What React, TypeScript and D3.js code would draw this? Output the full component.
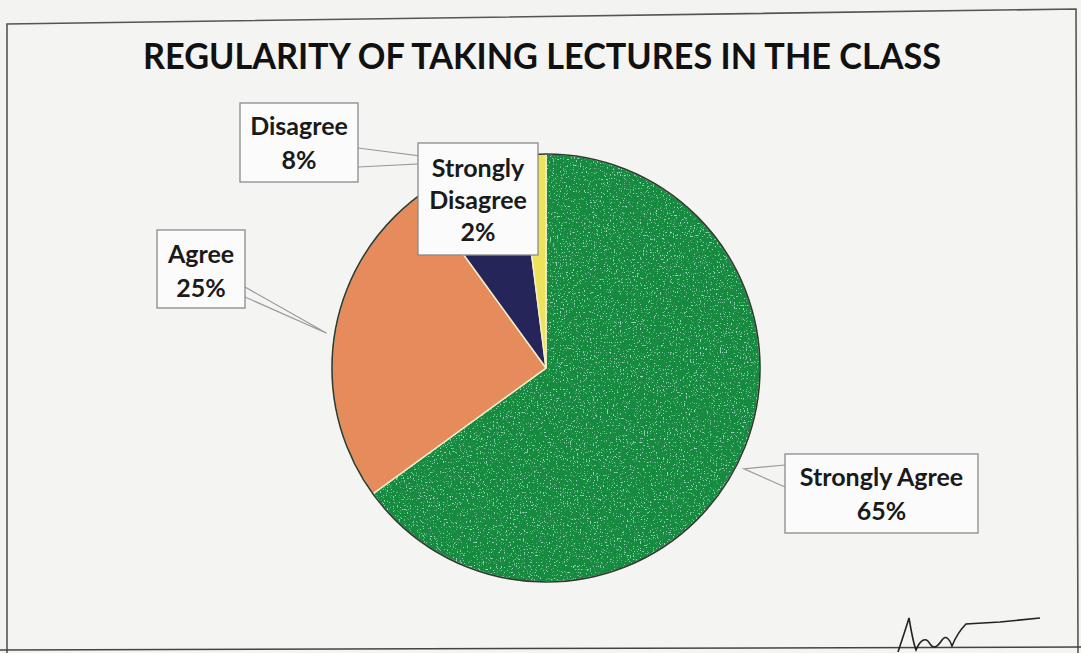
import React from "react";
import * as d3 from "d3";

const categories = ["Strongly Agree", "Agree", "Disagree", "Strongly Disagree"];
const percents = [65, 25, 8, 2];
const sliceColors = ["#138b41", "#e68b5c", "#25255a", "#ede25c"];
const chartTitle = "REGULARITY OF TAKING LECTURES IN THE CLASS";

// label layout (box rectangles and callout anchor points), separate from data
const labelBoxes = [
  { x: 785, y: 454, w: 193, h: 79, lines: ["Strongly Agree", "65%"], anchor: { x: 785, y1: 465, y2: 487 }, lineY: [486, 520] },
  { x: 157, y: 230, w: 88, h: 78, lines: ["Agree", "25%"], anchor: { x: 245, y1: 287, y2: 297 }, lineY: [263, 297] },
  { x: 240, y: 103, w: 118, h: 79, lines: ["Disagree", "8%"], anchor: { x: 358, y1: 148, y2: 167 }, lineY: [135, 169] },
  { x: 418, y: 143, w: 120, h: 112, lines: ["Strongly", "Disagree", "2%"], anchor: null, lineY: [177, 209, 241] },
];

const W = 1081;
const H = 653;
const cx = 546;
const cy = 368;
const R = 214;

export default function App() {
  const pie = d3.pie<number>().sort(null).value((d) => d)(percents);
  const arc = d3.arc<d3.PieArcDatum<number>>().innerRadius(0).outerRadius(R);
  const tipArc = d3.arc<d3.PieArcDatum<number>>().innerRadius(R + 8).outerRadius(R + 8);
  const font = "Lato, 'Open Sans', sans-serif";

  return (
    <svg width={W} height={H} style={{ position: "absolute", left: 0, top: 0, background: "#f3f3f1" }}>
      <defs>
        <filter id="speck" x="0" y="0" width="100%" height="100%">
          <feTurbulence type="fractalNoise" baseFrequency="0.7" numOctaves="2" seed="4" result="n" />
          <feColorMatrix in="n" type="matrix" values="0 0 0 0 0.3  0 0 0 0 0.68  0 0 0 0 0.5  0 0 0 9 -5.6" result="s" />
          <feComposite in="s" in2="SourceGraphic" operator="in" result="sc" />
          <feMerge>
            <feMergeNode in="SourceGraphic" />
            <feMergeNode in="sc" />
          </feMerge>
        </filter>
      </defs>
      <rect x={0} y={0} width={W} height={H} fill="#f3f3f1" />
      {/* chart frame (slightly skewed scan) */}
      <path d="M7,653 L7,24 L1076,9 L1078,653" fill="#f4f4f3" stroke="#555" strokeWidth={1.6} />
      <line x1={0} y1={650} x2={W} y2={647} stroke="#444" strokeWidth={1.5} />

      <text
        x={542}
        y={69}
        textAnchor="middle"
        fontFamily={font}
        fontWeight={700}
        fontSize={36}
        fill="#111"
        textLength={798}
        lengthAdjust="spacingAndGlyphs"
      >
        {chartTitle}
      </text>

      <g transform={`translate(${cx},${cy})`}>
        {pie.map((p, i) => (
          <path
            key={categories[i]}
            d={arc(p) || ""}
            fill={sliceColors[i]}
            stroke="#f6efc8"
            strokeWidth={1.5}
            filter={i === 0 ? "url(#speck)" : undefined}
          />
        ))}
        <circle r={R} fill="none" stroke="#2b3b30" strokeWidth={1.6} />
      </g>

      {/* callout leaders */}
      {labelBoxes.map((b, i) => {
        if (!b.anchor) return null;
        const [tx, ty] = tipArc.centroid(pie[i]);
        const px = cx + tx;
        const py = cy + ty;
        return (
          <polyline
            key={"l" + i}
            points={`${b.anchor.x},${b.anchor.y1} ${px},${py} ${b.anchor.x},${b.anchor.y2}`}
            fill="none"
            stroke="#9a9a9a"
            strokeWidth={1.2}
          />
        );
      })}

      {/* label boxes */}
      {labelBoxes.map((b, i) => (
        <g key={"b" + i}>
          <rect x={b.x} y={b.y} width={b.w} height={b.h} fill="#fbfbfb" stroke="#8a8a8a" strokeWidth={1.3} />
          {b.lines.map((t, j) => (
            <text
              key={j}
              x={b.x + b.w / 2}
              y={b.lineY[j]}
              textAnchor="middle"
              fontFamily={font}
              fontWeight={700}
              fontSize={25}
              fill="#1a1a1a"
            >
              {t}
            </text>
          ))}
        </g>
      ))}

      {/* signature scribble */}
      <path
        d="M898,652 C902,640 906,628 909,618 C911,630 913,642 916,650 C920,640 926,636 930,644 C934,650 938,646 942,640 C946,634 950,640 952,646 C956,636 962,628 966,624 L1000,622 L1040,618"
        fill="none"
        stroke="#222"
        strokeWidth={1.6}
      />
    </svg>
  );
}
